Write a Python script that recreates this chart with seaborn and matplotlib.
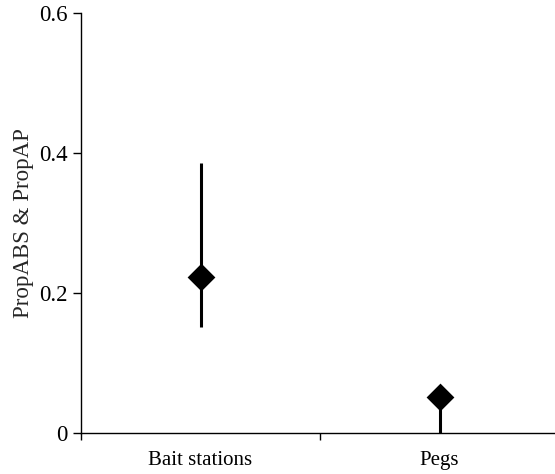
import pandas as pd
import matplotlib
matplotlib.use("Agg")
import matplotlib.pyplot as plt
import seaborn as sns

# values
categories = ["Bait stations", "Pegs"]
means = [0.223, 0.051]
lower = [0.151, 0.0]
upper = [0.386, 0.06]
yticks = [0, 0.2, 0.4, 0.6]
ytick_labels = ["0", "0.2", "0.4", "0.6"]

df = pd.DataFrame({"site": categories, "prop": means, "lo": lower, "hi": upper})

sns.set_theme(style="white")
plt.rcParams["font.family"] = ["Liberation Serif", "DejaVu Serif"]

fig = plt.figure(figsize=(5.55, 4.74), dpi=100)
ax = fig.add_axes([81 / 555, 41 / 474, 478 / 555, 420 / 474])

# error bars first so the markers sit on top
ax.vlines(x=range(len(df)), ymin=df["lo"], ymax=df["hi"], color="black", linewidth=2.2, zorder=2)
sns.scatterplot(data=df, x="site", y="prop", marker="D", s=200, color="black",
                edgecolor="black", linewidth=0, ax=ax, zorder=3)

ax.set_xlim(-0.5, 1.5)
ax.set_ylim(0, 0.6)
ax.set_yticks(yticks)
ax.set_yticklabels(ytick_labels)
ax.set_xticks([0, 1])
ax.set_xticklabels(categories)
ax.set_xticks([-0.5, 0.5, 1.5], minor=True)

ax.set_xlabel("")
ax.set_ylabel("PropABS & PropAP", fontsize=16.5, labelpad=4)

ax.tick_params(axis="x", which="major", bottom=False, length=0, pad=13, labelsize=15, colors="black")
ax.tick_params(axis="x", which="minor", bottom=True, length=5, width=1, direction="out", color="black")
ax.tick_params(axis="y", left=True, length=5.5, width=1, direction="out", pad=4, labelsize=16.5, colors="black")

for side in ["top", "right"]:
    ax.spines[side].set_visible(False)
for side in ["left", "bottom"]:
    ax.spines[side].set_color("black")
    ax.spines[side].set_linewidth(1)
ax.spines["bottom"].set_zorder(1)

fig.savefig("out.png", dpi=100)
plt.close(fig)
